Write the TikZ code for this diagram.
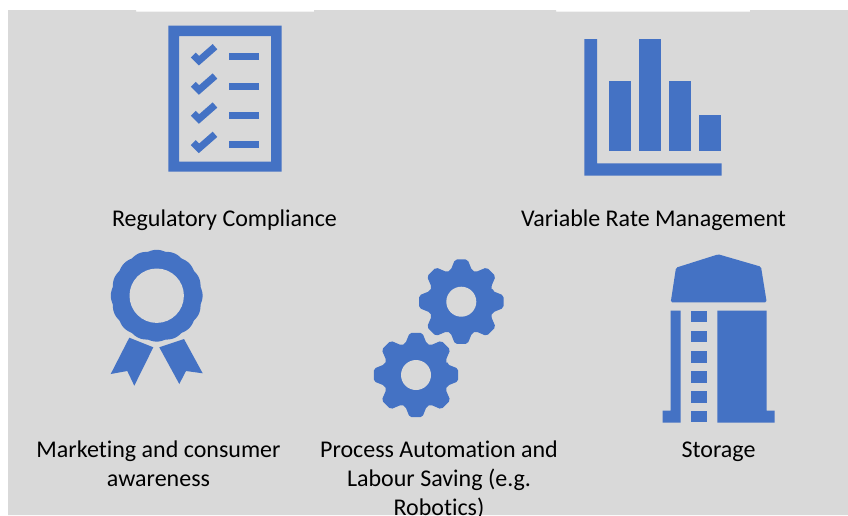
\documentclass[tikz,border=0pt]{standalone}
\usepackage{fontspec}
\setmainfont{Carlito}[Ligatures=NoCommon]
\usetikzlibrary{calc}
\definecolor{iconblue}{HTML}{4472C4}
\definecolor{panelgray}{HTML}{D9D9D9}
\tikzset{
  x=1pt,y=-1pt,
  icon/.style={fill=iconblue,draw=none},
  hole/.style={fill=panelgray,draw=none},
  tick/.style={draw=iconblue,line width=7pt,line cap=butt,line join=miter},
  caption/.style={anchor=base,inner sep=0pt,font=\fontsize{24}{24}\selectfont,text=black}
}
\newcommand{\gearicon}[2]{%
  \begin{scope}[shift={(#1,#2)}]
  \fill[icon,rounded corners=2pt] (-19:33)
    \foreach \a in {0,45,...,315}{ -- (\a-19:33) -- (\a-8.5:42.7) -- (\a+8.5:42.7) -- (\a+19:33) } -- cycle;
  \fill[hole] (0,0) circle[radius=15];
  \end{scope}
}
\begin{document}
\begin{tikzpicture}
\useasboundingbox (0,0) rectangle (848,515);
\clip (0,0) rectangle (848,515);
% panel
\fill[panelgray] (8,10) -- (136,10) -- (136,11.5) -- (314,11.5) -- (314,10) -- (556,10) -- (556,11.5) -- (750,11.5) -- (750,10) -- (848,10) -- (848,515) -- (8,515) -- cycle;
% checklist
\fill[icon,even odd rule] (168.3,25.7) rectangle (281.7,171.7) (179,36) rectangle (271,161.7);
\foreach \ry in {56.7,86,115,144.3}{
  \fill[icon] (229.3,\ry-3.5) rectangle (259.3,\ry+3.5);
  \draw[tick] (193.3,\ry-1.7) -- (199,\ry+4) -- (215,\ry-10);
}
% chart
\fill[icon] (584.3,39) -- (597,39) -- (597,163.3) -- (721.7,163.3) -- (721.7,175.7) -- (584.3,175.7) -- cycle;
\fill[icon] (608.7,80.7) rectangle (631,151.3);
\fill[icon] (639,39) rectangle (661,151.3);
\fill[icon] (669,80.7) rectangle (691,151.3);
\fill[icon] (699.3,115.3) rectangle (721.3,151.3);
% rosette
\fill[icon] plot[domain=0:360,samples=241,smooth] ({156.7+(44.7+1.2*abs(cos(8*\x)))*cos(\x)},{295.7+(44.7+1.2*abs(cos(8*\x)))*sin(\x)}) -- cycle;
\fill[hole] (156.7,295.7) circle[radius=27.2];
\fill[icon] (129.3,337.7) -- (153.3,347.3) -- (134.3,385.7) -- (127.3,371) -- (110.7,374) -- cycle;
\fill[icon] (184,339) -- (159.3,347.3) -- (179.3,384) -- (186,371) -- (202.7,373.3) -- cycle;
% gears
\gearicon{461.3}{301.7}
\gearicon{416}{375}
% silo
\fill[icon,rounded corners=1.5pt] (670.7,302.3) -- (676,267.7) -- (718.3,254.3) -- (761,266.7) -- (766.7,302.3) -- cycle;
\fill[icon] (670.7,310.7) -- (680.7,310.7) -- (680.7,422.7) -- (662.7,422.7) -- (662.7,410.7) -- (670.7,410.7) -- cycle;
\fill[icon] (717.3,310.7) -- (766.7,310.7) -- (766.7,410.7) -- (774.7,410.7) -- (774.7,422.7) -- (717.3,422.7) -- cycle;
\foreach \ry in {310.7,330.7,351,371,391,410.7}{
  \fill[icon] (690.7,\ry) rectangle (706.7,\ry+11.7);
}
% captions
\node[caption] (reg) at (224.5,226.7) {Regulatory Compliance};
\node[caption] (var) at (653.5,226.7) {Variable Rate Management};
\node[caption] (mkt1) at (158.5,457) {Marketing and consumer};
\node[caption] (mkt2) at (158.5,486) {awareness};
\node[caption] (pro1) at (439,457) {Process Automation and};
\node[caption] (pro2) at (439,486) {Labour Saving (e.g.};
\node[caption] (pro3) at (439,515.5) {Robotics)};
\node[caption] (sto) at (718.5,457) {Storage};
\end{tikzpicture}
\end{document}
